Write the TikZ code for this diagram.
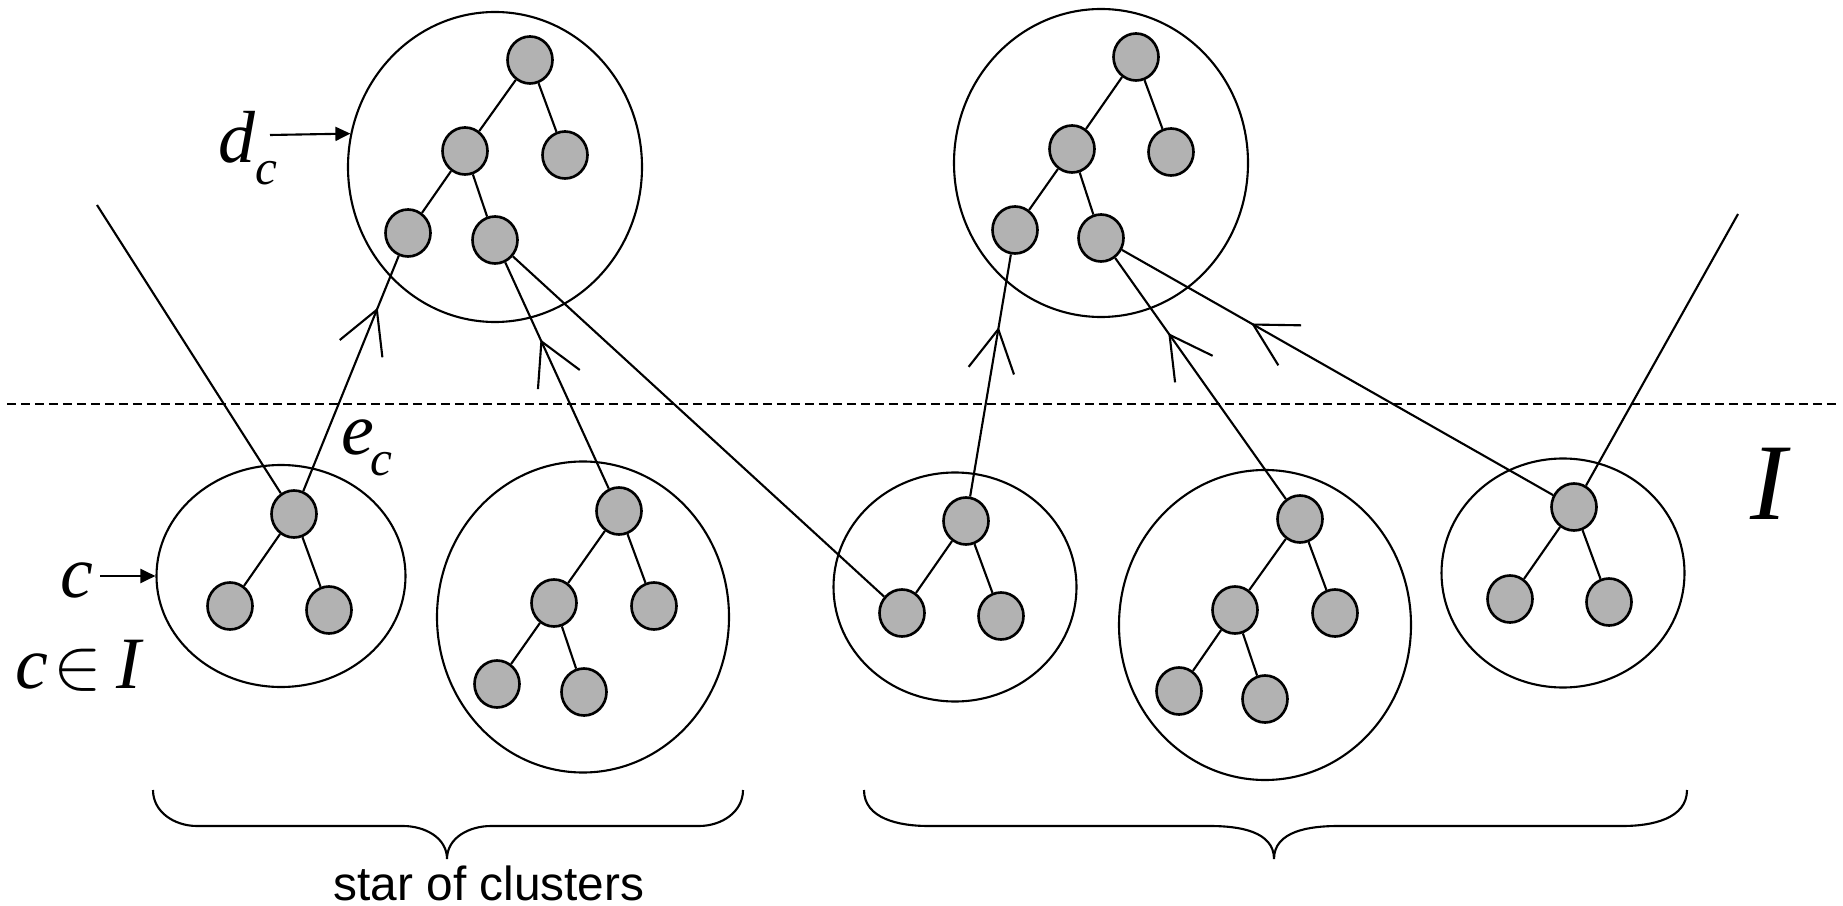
\documentclass[tikz,border=0pt]{standalone}
\usepackage{fontspec}
\setmainfont{Liberation Serif}
\newfontfamily\capfont{Liberation Sans}
\usepackage{tikz}
\usetikzlibrary{arrows.meta,shapes.geometric,decorations.markings}
\tikzset{
  >=Stealth,
  every picture/.append style={line width=0.6pt},
}
\tikzset{
  cluster/.style={draw, ellipse, inner sep=0pt},
  vert/.style={draw, ellipse, fill=black!30, line width=0.75pt, inner sep=0pt,
               minimum width=4.5mm, minimum height=4.7mm},
  barbed/.style={postaction={decorate}, decoration={markings,
               mark=at position #1 with {\arrow{Straight Barb[length=4.2mm,width=4.6mm]}}}},
  ptr/.style={-{Triangle[length=1.5mm,width=1.4mm]}}
}

\begin{document}
\begin{tikzpicture}[
  x=0.1mm, y=-0.1mm,
  lab/.style={inner sep=0pt, anchor=base west, font=\fontsize{21}{21}\selectfont},
  biglab/.style={inner sep=0pt, anchor=base west, font=\fontsize{31}{31}\selectfont},
  caption/.style={inner sep=0pt, anchor=base, font=\capfont\fontsize{13.6}{14}\selectfont},
  brace/.style={line width=0.6pt},
  divider/.style={line width=0.6pt, dash pattern=on 0.9mm off 0.5mm}
]
\useasboundingbox (0,0) rectangle (1843,906);

% cluster outlines
\node[cluster, minimum width=29.4mm, minimum height=31mm]   (topL) at ( 495,167) {};
\node[cluster, minimum width=29.4mm, minimum height=30.8mm] (topR) at (1101,163) {};
\node[cluster, minimum width=24.9mm, minimum height=22.2mm] (cA)   at ( 281,576) {};
\node[cluster, minimum width=29.2mm, minimum height=31.1mm] (cB)   at ( 583,617) {};
\node[cluster, minimum width=24.3mm, minimum height=22.9mm] (cC)   at ( 955,587) {};
\node[cluster, minimum width=29.2mm, minimum height=31mm]   (cD)   at (1265,625) {};
\node[cluster, minimum width=24.3mm, minimum height=22.9mm] (cE)   at (1563,573) {};

% trees inside the clusters
\node[vert] (t1) at ( 530, 60) {};
\node[vert] (t2) at ( 465,151) {};
\node[vert] (t3) at ( 565,155) {};
\node[vert] (t4) at ( 408,233) {};
\node[vert] (t5) at ( 495,240) {};

\node[vert] (u1) at (1136, 57) {};
\node[vert] (u2) at (1072,149) {};
\node[vert] (u3) at (1171,152) {};
\node[vert] (u4) at (1015,230) {};
\node[vert] (u5) at (1101,238) {};

\node[vert] (a1) at ( 294,514) {};
\node[vert] (a2) at ( 230,606) {};
\node[vert] (a3) at ( 329,610) {};

\node[vert] (b1) at ( 619,511) {};
\node[vert] (b2) at ( 554,603) {};
\node[vert] (b3) at ( 654,606) {};
\node[vert] (b4) at ( 497,684) {};
\node[vert] (b5) at ( 584,692) {};

\node[vert] (c1) at ( 966,521) {};
\node[vert] (c2) at ( 902,613) {};
\node[vert] (c3) at (1001,616) {};

\node[vert] (d1) at (1300,519) {};
\node[vert] (d2) at (1235,610) {};
\node[vert] (d3) at (1335,613) {};
\node[vert] (d4) at (1179,691) {};
\node[vert] (d5) at (1265,699) {};

\node[vert] (e1) at (1574,507) {};
\node[vert] (e2) at (1510,599) {};
\node[vert] (e3) at (1609,602) {};

\draw (t1) -- (t2);  \draw (t1) -- (t3);  \draw (t2) -- (t4);  \draw (t2) -- (t5);
\draw (u1) -- (u2);  \draw (u1) -- (u3);  \draw (u2) -- (u4);  \draw (u2) -- (u5);
\draw (a1) -- (a2);  \draw (a1) -- (a3);
\draw (b1) -- (b2);  \draw (b1) -- (b3);  \draw (b2) -- (b4);  \draw (b2) -- (b5);
\draw (c1) -- (c2);  \draw (c1) -- (c3);
\draw (d1) -- (d2);  \draw (d1) -- (d3);  \draw (d2) -- (d4);  \draw (d2) -- (d5);
\draw (e1) -- (e2);  \draw (e1) -- (e3);

% the cut line
\draw[divider] (7,404) -- (1836,404);

% edges leaving the clusters
\coordinate (leftend)  at (  97,205);
\coordinate (rightend) at (1738,214);

\draw (a1) -- (leftend);
\draw[barbed=0.78] (a1) -- (t4);
\draw[barbed=0.66] (b1) -- (t5);
\draw (c2) -- (t5);
\draw[barbed=0.70] (c1) -- (u4);
\draw[barbed=0.69] (d1) -- (u5);
\draw[barbed=0.70] (e1) -- (u5);
\draw (e1) -- (rightend);

% labels
\node[lab] (dlab) at (217,163) {\textit{d}\raisebox{-6pt}{\fontsize{14}{14}\selectfont\textit{c}}};
\node[lab] (elab) at (340,455) {\textit{e}\kern-1pt\raisebox{-5.7pt}{\fontsize{14}{14}\selectfont\textit{c}}};
\node[lab] (clab) at ( 59,597) {\textit{c}};
\node[lab] (inlab) at (14,688) {\textit{c}\kern1.7pt$\in$\kern4pt\textit{I}};
\node[biglab] (Ilab) at (1749,519) {\textit{I}};

\coordinate (dtail) at (270,135);
\coordinate (ctail) at (100,576);
\draw[ptr] (dtail) -- (topL.167.5);
\draw[ptr] (ctail) -- (cA.west);

% braces under the clusters
\draw[brace] (153,790) to[out=-90,in=180] (197,826) -- (403,826)
  to[out=0,in=90] (447,859) to[out=90,in=180] (491,826) -- (699,826)
  to[out=0,in=-90] (743,790);
\draw[brace] (864,790) to[out=-90,in=180] (928,826) -- (1210,826)
  to[out=0,in=90] (1274,859) to[out=90,in=180] (1338,826) -- (1623,826)
  to[out=0,in=-90] (1687,790);

\node[caption] (starlab) at (489,900) {star of clusters};

\end{tikzpicture}
\end{document}
